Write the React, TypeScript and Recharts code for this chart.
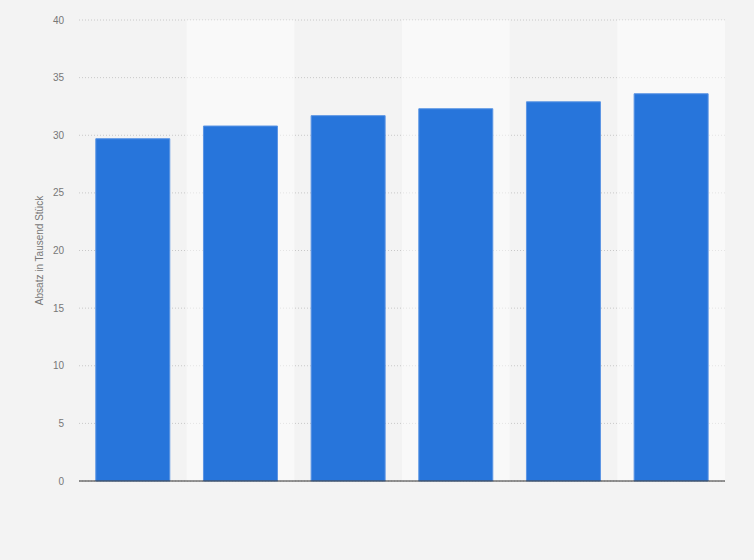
import { BarChart, Bar, XAxis, YAxis, CartesianGrid, ReferenceArea } from 'recharts';

const categories = ['2015', '2016', '2017', '2018', '2019', '2020'];
const absatz = [29.7, 30.8, 31.7, 32.3, 32.9, 33.6];
const yTicks = [0, 5, 10, 15, 20, 25, 30, 35, 40];

const data = categories.map((year, i) => ({ year, absatz: absatz[i] }));

const font = 'Liberation Sans, Arial, sans-serif';

export default function App() {
    return (
        <div style={{ position: 'absolute', left: 0, top: 0, width: 754, height: 560, background: '#f3f3f3' }}>
            <BarChart
                width={754}
                height={560}
                data={data}
                margin={{ top: 20, right: 29, left: 0, bottom: 78 }}
                barCategoryGap="15.6%"
            >
                <CartesianGrid vertical={false} strokeDasharray="1 2" stroke="#c8c8c8" />
                {/* lighter column bands, semi-transparent so the grid shows through */}
                {categories.map((c, i) =>
                    i % 2 === 1 ? (
                        <ReferenceArea
                            key={c}
                            x1={c}
                            x2={c}
                            fill="#ffffff"
                            fillOpacity={0.5}
                            stroke="none"
                            ifOverflow="visible"
                        />
                    ) : null
                )}
                <XAxis
                    dataKey="year"
                    tick={false}
                    tickLine={false}
                    height={1}
                    axisLine={{ stroke: '#333', strokeWidth: 1.2 }}
                />
                <YAxis
                    width={79}
                    domain={[0, 40]}
                    ticks={yTicks}
                    tickLine={false}
                    axisLine={false}
                    tickMargin={9}
                    tick={{ fontSize: 10, fill: '#777', fontFamily: font }}
                    label={{
                        value: 'Absatz in Tausend Stück',
                        angle: -90,
                        position: 'center',
                        style: { fontSize: 10, fill: '#777', fontFamily: font },
                    }}
                />
                <Bar dataKey="absatz" fill="#2775db" stroke="#5b95e4" strokeWidth={1} isAnimationActive={false} />
            </BarChart>
        </div>
    );
}
